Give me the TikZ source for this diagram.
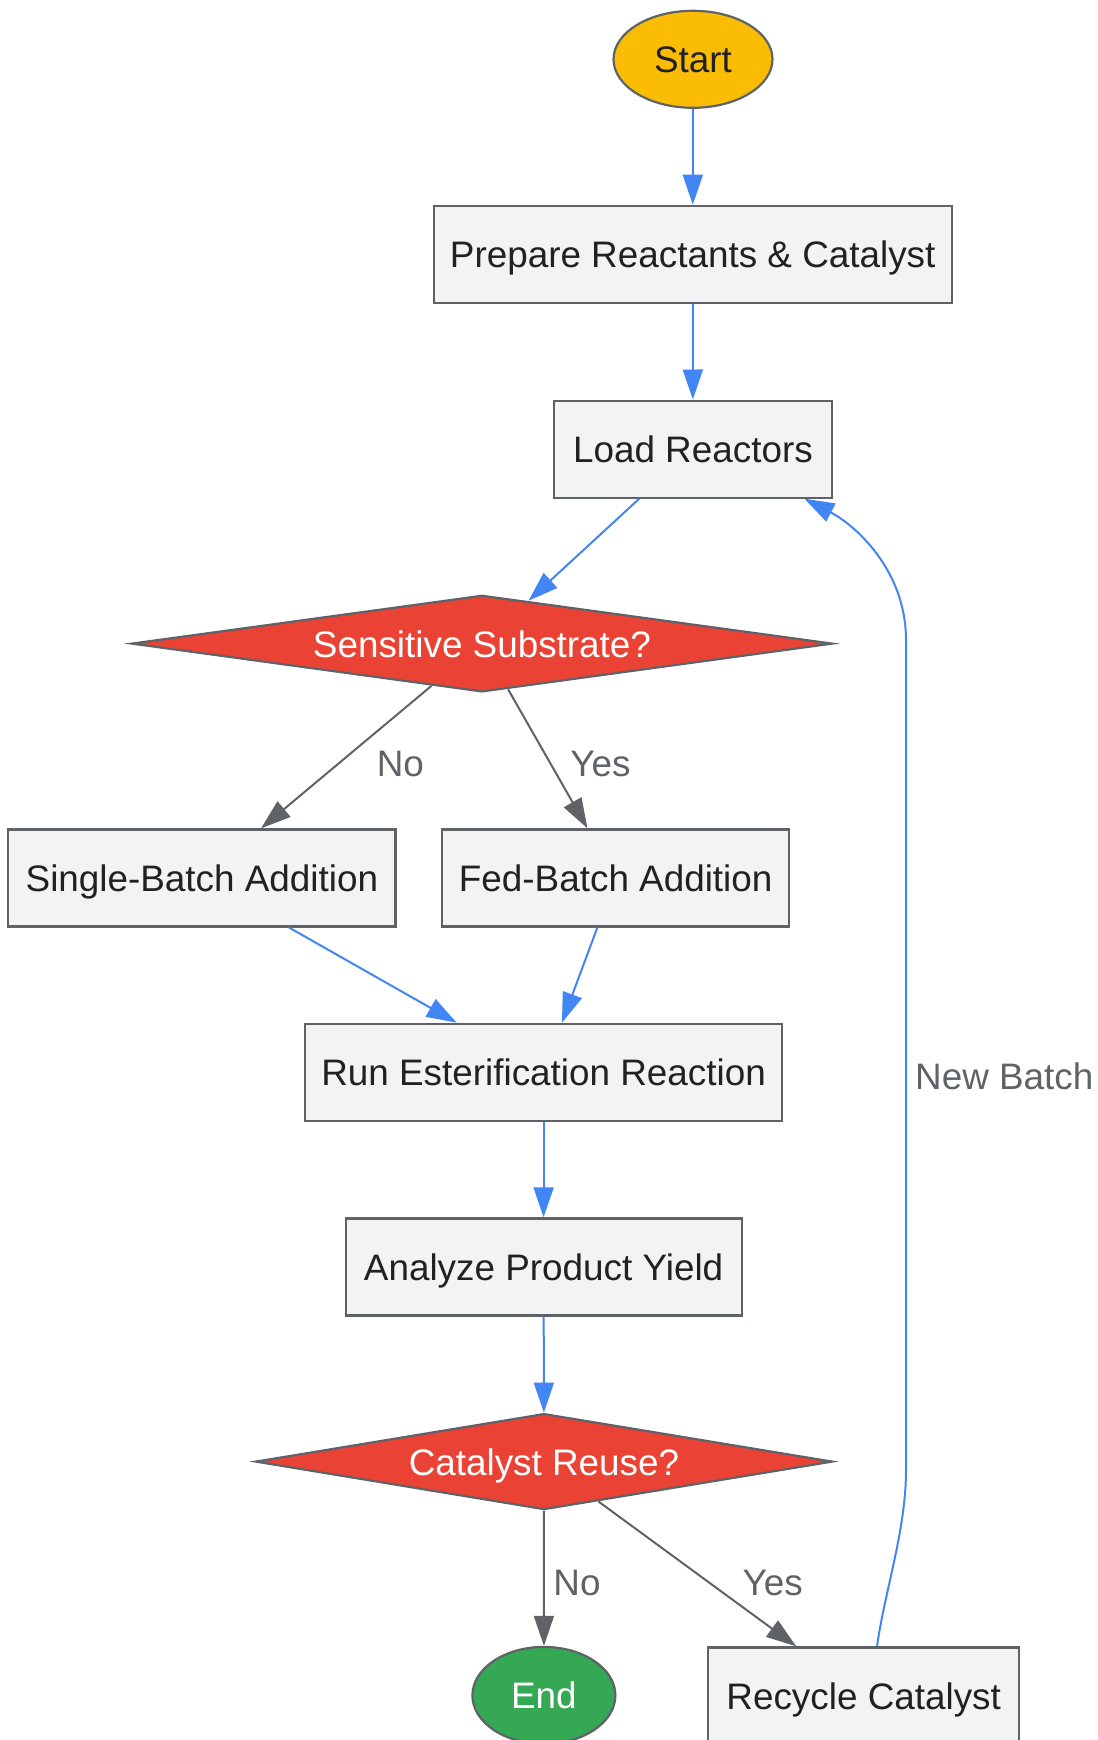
\documentclass[tikz,border=0pt]{standalone}
\usepackage{fontspec}
\setmainfont{Liberation Sans}
\usetikzlibrary{shapes.geometric,arrows.meta,calc}
\definecolor{edgeblue}{HTML}{4285F4}
\definecolor{edgegray}{HTML}{5F6368}
\definecolor{boxfill}{HTML}{F1F3F4}
\definecolor{boxline}{HTML}{5F6368}
\definecolor{txtdark}{HTML}{202124}
\definecolor{startfill}{HTML}{FBBC04}
\definecolor{decfill}{HTML}{EA4335}
\definecolor{endfill}{HTML}{34A853}
\tikzset{
  base/.style={draw=boxline, line width=2.2bp, inner sep=0pt,
    font=\fontsize{37}{44}\selectfont, text=txtdark,
    text height=27bp, text depth=0pt},
  procbox/.style={base, rectangle, fill=boxfill, minimum height=97bp},
  termstart/.style={base, ellipse, fill=startfill, minimum width=159bp, minimum height=97bp},
  termend/.style={base, ellipse, fill=endfill, text=white, minimum width=143bp, minimum height=97bp},
  decision/.style={base, diamond, aspect=7, fill=decfill, text=white},
  flow/.style={draw=edgeblue, line width=2bp, -{Triangle[length=30bp,width=20bp]}},
  choice/.style={draw=edgegray, line width=2bp, -{Triangle[length=30bp,width=20bp]}},
  elabel/.style={font=\fontsize{37}{44}\selectfont, text=edgegray, inner sep=0pt,
    text height=27bp, text depth=0pt}
}
\begin{document}
\begin{tikzpicture}[x=1bp,y=-1bp]
\useasboundingbox (0,0) rectangle (1097,1740);
\node[termstart] (start) at (693,59.3) {Start};
\node[procbox, minimum width=518bp] (prep) at (692.7,254.3) {Prepare Reactants \& Catalyst};
\node[procbox, minimum width=278bp] (load) at (692.9,449.1) {Load Reactors};
\node[decision, minimum width=701bp, minimum height=96.6bp] (d1) at (482,643.6) {Sensitive Substrate?};
\node[procbox, minimum width=387bp] (single) at (201.9,877.9) {Single-Batch Addition};
\node[procbox, minimum width=347bp] (fed) at (615.7,877.9) {Fed-Batch Addition};
\node[procbox, minimum width=477bp] (run) at (543.6,1072.3) {Run Esterification Reaction};
\node[procbox, minimum width=396bp] (analyze) at (543.6,1266.9) {Analyze Product Yield};
\node[decision, minimum width=577bp, minimum height=96bp] (d2) at (544,1461.6) {Catalyst Reuse?};
\node[termend] (end) at (543.9,1695.4) {End};
\node[procbox, minimum width=311bp] (recycle) at (863.7,1695.9) {Recycle Catalyst};

\draw[flow] (start) -- (prep);
\draw[flow] (prep) -- (load);
\draw[flow] (load) -- (d1);
\draw[choice] (d1) -- (single);
\draw[choice] (d1) -- (fed);
\draw[flow] (single) -- (run);
\draw[flow] (fed) -- (run);
\draw[flow] (run) -- (analyze);
\draw[flow] (analyze) -- (d2);
\draw[choice] (d2) -- (end);
\draw[choice] (d2) -- (recycle);
\draw[flow] (recycle.75) .. controls (885,1590) and (906,1530) .. (906,1470)
  -- (906,640) .. controls (906,570) and (855,525) .. (load.-24);

\node[elabel] (lno1) at (400.4,763) {No};
\node[elabel] (lyes1) at (600.5,763) {Yes};
\node[elabel] (lno2) at (577,1581.7) {No};
\node[elabel] (lyes2) at (772.8,1581.7) {Yes};
\node[elabel, anchor=west] (lnew) at (915,1075.6) {New Batch};
\end{tikzpicture}
\end{document}
